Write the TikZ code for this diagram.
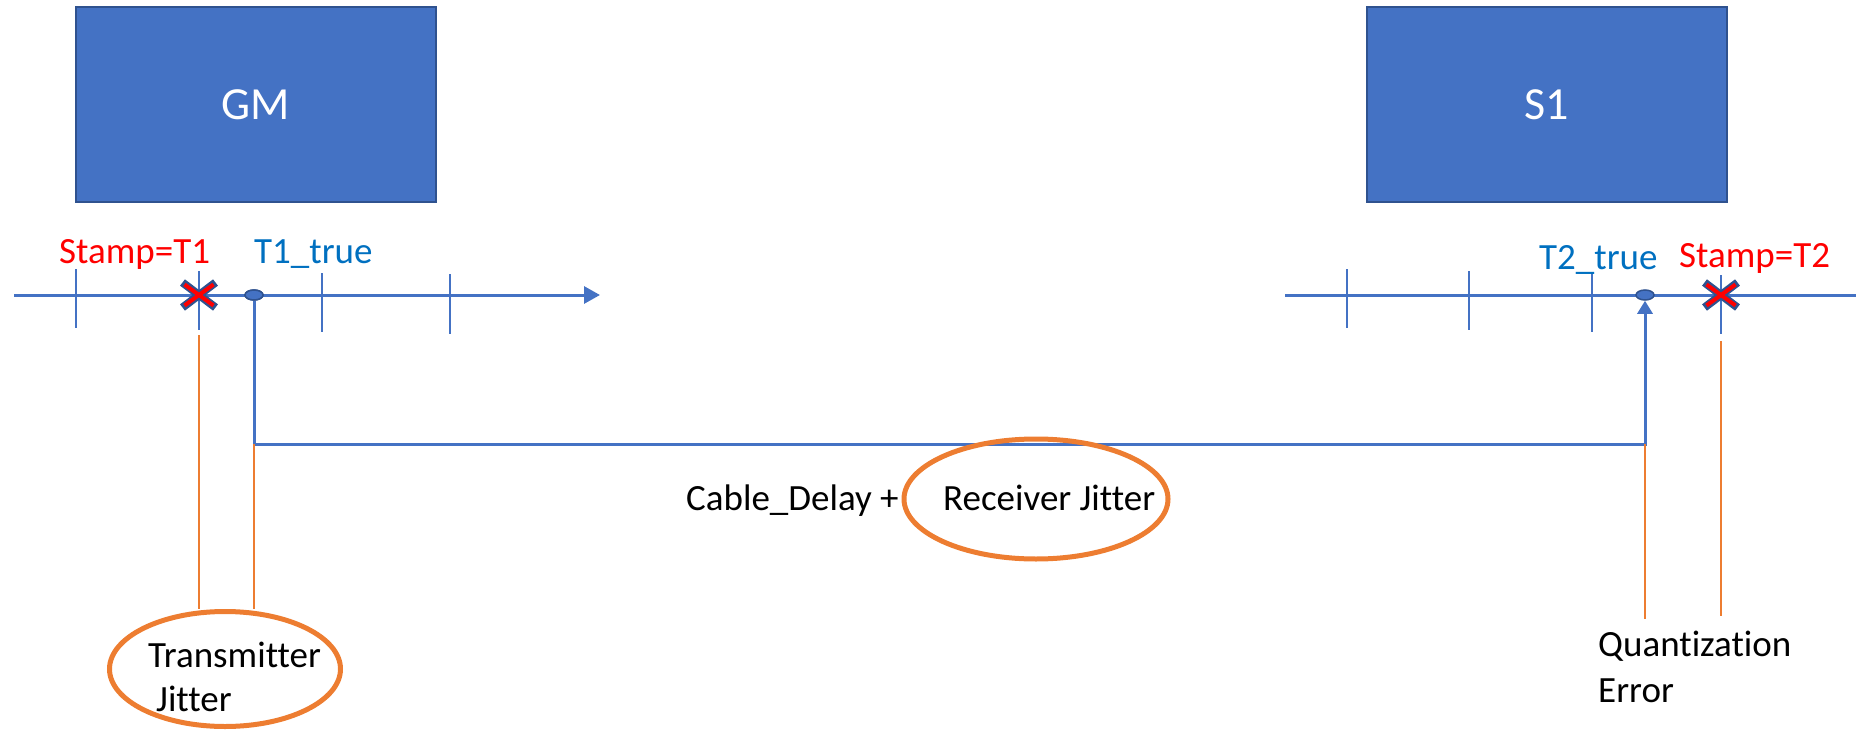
\documentclass[tikz,border=0pt]{standalone}
\usepackage{fontspec}
\setmainfont[Ligatures=NoCommon]{Carlito}
\usetikzlibrary{arrows.meta,shapes.geometric,shapes.misc}
\definecolor{boxblue}{HTML}{4472C4}
\definecolor{edgeblue}{HTML}{2F528F}
\definecolor{textblue}{HTML}{0070C0}
\definecolor{accent}{HTML}{ED7D31}
\definecolor{stampred}{HTML}{FF0000}

\begin{document}
\begin{tikzpicture}[x=1pt,y=-1pt,
  device/.style={draw=edgeblue,line width=2pt,fill=boxblue,text=white,
    minimum width=360pt,minimum height=194pt,inner sep=0,
    font=\fontsize{46}{55}\selectfont},
  timeline/.style={draw=boxblue,line width=3pt,-{Triangle[length=16pt,width=17pt]}},
  tickmark/.style={draw=boxblue,line width=1.6pt},
  txt/.style={inner sep=0,anchor=base west,font=\fontsize{37}{44}\selectfont},
  truedot/.style={ellipse,draw=edgeblue,line width=1.5pt,fill=boxblue,
    minimum width=18pt,minimum height=10pt,inner sep=0},
  stampout/.style={cross out,draw=edgeblue,line width=8pt,
    minimum width=25pt,minimum height=17pt,inner sep=0},
  stampin/.style={cross out,draw=stampred,line width=4pt,
    minimum width=25pt,minimum height=17pt,inner sep=0},
  link/.style={draw=boxblue,line width=3pt},
  lead/.style={draw=accent,line width=2pt},
  ring/.style={ellipse,draw=accent,line width=5pt,inner sep=0},
]
\useasboundingbox (0,0) rectangle (1856,733);

% devices
\node[device] (gm) at (255.5,104.5) {GM};
\node[device] (s1) at (1547,104.5) {S1};

% time axes
\coordinate (ga) at (14,295);
\coordinate (gb) at (600,295);
\coordinate (sa) at (1285,295);
\coordinate (sb) at (1872,295);
\draw[timeline] (ga) -- (gb);
\draw[timeline] (sa) -- (sb);

% clock ticks
\draw[tickmark] (76,269) -- (76,328);
\draw[tickmark] (199,271) -- (199,330);
\draw[tickmark] (322,273) -- (322,332);
\draw[tickmark] (450,274) -- (450,334);
\draw[tickmark] (1347,269) -- (1347,328);
\draw[tickmark] (1469,271) -- (1469,330);
\draw[tickmark] (1592,273) -- (1592,332);
\draw[tickmark] (1721,275) -- (1721,334);

% labels above the axes
\node[txt,text=stampred] (st1) at (59,263) {Stamp=T1};
\node[txt,text=textblue] (t1) at (254,263) {T1\_true};
\node[txt,text=textblue] (t2) at (1539,269) {T2\_true};
\node[txt,text=stampred] (st2) at (1679,267) {Stamp=T2};

% true event instants and the link between them
\coordinate (bend) at (254,444);
\node[truedot] (d1) at (254,295) {};
\node[truedot] (d2) at (1645,295) {};
\draw[link,-{Triangle[length=13pt,width=15pt]}] (d1.south) -- (bend) -| (d2.south);
\node[truedot] at (d1) {};

% stamped instants
\node[stampout] (x1) at (199,295) {};
\node[stampin] at (x1) {};
\node[stampout] (x2) at (1721,295) {};
\node[stampin] at (x2) {};

% jitter / error callouts
\node[ring,minimum width=231pt,minimum height=115pt] (txj) at (225,669) {};
\node[ring,minimum width=264pt,minimum height=120pt] (rxj) at (1036,499) {};

\draw[lead] ([yshift=-40pt]x1.center) -- (x1 |- txj.north);
\draw[lead] (bend) -- (bend |- txj.north);
\draw[lead] (d2 |- bend) -- ++(0,175);
\draw[lead] ([yshift=-46pt]x2.center) -- ++(0,275);

\node[txt] (tx1) at (148,667) {Transmitter};
\node[txt] (tx2) at (156,711) {Jitter};
\node[txt] (cd) at (686,510) {Cable\_Delay +};
\node[txt] (rj) at (943,510) {Receiver Jitter};
\node[txt] (q1) at (1598,656) {Quantization};
\node[txt] (q2) at (1598,702) {Error};
\end{tikzpicture}
\end{document}
